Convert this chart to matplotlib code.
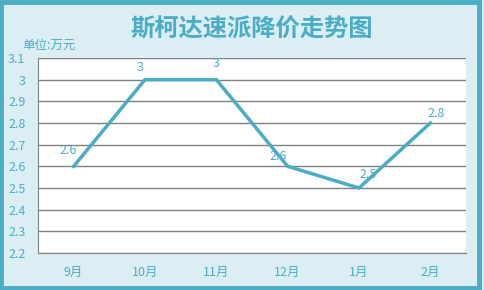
import matplotlib
matplotlib.use("Agg")
import matplotlib.pyplot as plt
from matplotlib.patches import Rectangle

plt.rcParams['font.family'] = ['Noto Sans CJK SC', 'DejaVu Sans']

categories = ['9月', '10月', '11月', '12月', '1月', '2月']
prices = [2.6, 3.0, 3.0, 2.6, 2.5, 2.8]
labels = ['2.6', '3', '3', '2.6', '2.5', '2.8']
yticks = [2.2, 2.3, 2.4, 2.5, 2.6, 2.7, 2.8, 2.9, 3.0, 3.1]
yticklabels = ['2.2', '2.3', '2.4', '2.5', '2.6', '2.7', '2.8', '2.9', '3', '3.1']
label_offsets = [(-3.6, 11.5), (-3.6, 8.6), (0, 12), (-7, 7.2), (6.5, 9.4), (4.3, 7.2)]

teal = '#4BACC6'
bg = '#DBEEF4'

fig = plt.figure(figsize=(4.85, 2.9), dpi=100, facecolor=bg)
fig.patches.append(Rectangle((0.003, 0.006), 0.985, 0.988, transform=fig.transFigure,
                             fill=False, edgecolor=teal, linewidth=3.5))
ax = fig.add_axes([38/485, 1-253/290, 428/485, 195/290])
ax.set_facecolor('white')
x = list(range(len(categories)))
ax.plot(x, prices, color=teal, linewidth=2.5, solid_joinstyle='miter')
ax.set_xlim(-0.5, len(categories) - 0.5)
ax.set_ylim(2.2, 3.1)
ax.set_yticks(yticks)
ax.set_yticklabels(yticklabels)
ax.set_xticks(x)
ax.set_xticklabels(categories)
ax.grid(axis='y', color='#808080', linewidth=1)
ax.set_axisbelow(True)
for s in ['top', 'right']:
    ax.spines[s].set_visible(False)
for s in ['left', 'bottom']:
    ax.spines[s].set_color('#808080')
ax.tick_params(length=0, colors=teal, labelsize=9)
ax.tick_params(axis='x', pad=9)
ax.tick_params(axis='y', pad=9)
for xi, yi, lab, off in zip(x, prices, labels, label_offsets):
    ax.annotate(lab, (xi, yi), xytext=off, textcoords='offset points',
                ha='center', va='center', color=teal, fontsize=9)

fig.text(252/485, 1-29/290, '斯柯达速派降价走势图', ha='center', va='center',
         color=teal, fontsize=17.5, fontweight='bold')
fig.text(22/485, 1-45/290, '单位:万元', ha='left', va='center', color=teal, fontsize=9)

fig.savefig('out.png', dpi=100, facecolor=bg)
